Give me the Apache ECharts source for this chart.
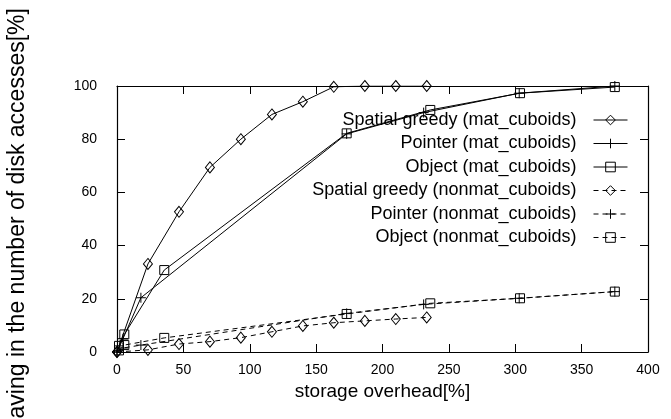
<!DOCTYPE html>
<html>
<head>
<meta charset="utf-8">
<script src="https://cdn.jsdelivr.net/npm/echarts@6/dist/echarts.min.js"></script>
<style>
    html,body{margin:0;padding:0;background:#fff;}
    #main{width:671px;height:419px;}
</style>
</head>
<body>
<div id="main"></div>
<script>
//x轴刻度
var xTicks=[0,50,100,150,200,250,300,350,400];
var yTicks=[0,20,40,60,80,100];

//Spatial greedy
var greedyX=[0,23.3,46.7,70,93.3,116.7,140,163.3,186.7,210,233.3];
var greedyMat=[0,33.1,52.7,69.4,80,89.3,94.1,99.7,100,100,100];
var greedyNonmat=[0,0.8,3,3.9,5.4,7.6,9.8,11,11.7,12.4,13];

//Pointer
var pointerX=[0,4.5,18,173,231,303,375];
var pointerMat=[0,5,20.4,82,90,97.3,100];
var pointerNonmat=[0,1.5,2.6,14.5,17.9,20.2,22.7];

//Object
var objectX=[1.5,5.5,35.6,173,236,303.6,375];
var objectMat=[2.3,6.6,30.8,82.2,91,97.3,99.6];
var objectNonmat=[0.6,2.6,5.3,14.3,18.3,20.2,22.7];

var legendNames=[
    'Spatial greedy (mat_cuboids)',
    'Pointer (mat_cuboids)',
    'Object (mat_cuboids)',
    'Spatial greedy (nonmat_cuboids)',
    'Pointer (nonmat_cuboids)',
    'Object (nonmat_cuboids)'
];

var DIAMOND='path://M5,0L10,6L5,12L0,6Z';
var SQUARE='path://M0,0L10,0L10,10L0,10Z';
var PLUS='path://M0,5L10,5M5,0L5,10';

var font='"Liberation Sans",Arial,sans-serif';

function pairs(xs,ys){
    var out=[];
    for(var i=0;i<xs.length;i++){
        out.push([xs[i],ys[i]]);
    }
    return out;
}

function makeLine(name,xs,ys,symbol,size,dashed){
    return {
        name:name,
        type:'line',
        xAxisIndex:0,
        yAxisIndex:0,
        data:pairs(xs,ys),
        symbol:symbol,
        symbolSize:size,
        showAllSymbol:true,
        lineStyle:{color:'#000',width:1,type:dashed?[5,4]:'solid'},
        itemStyle:{color:'rgba(0,0,0,0)',borderColor:'#000',borderWidth:1},
        emphasis:{disabled:true},
        z:3
    };
}

var series=[
    makeLine(legendNames[0],greedyX,greedyMat,DIAMOND,[9,11],false),
    makeLine(legendNames[1],pointerX,pointerMat,PLUS,[10,10],false),
    makeLine(legendNames[2],objectX,objectMat,SQUARE,[9,9],false),
    makeLine(legendNames[3],greedyX,greedyNonmat,DIAMOND,[9,11],true),
    makeLine(legendNames[4],pointerX,pointerNonmat,PLUS,[10,10],true),
    makeLine(legendNames[5],objectX,objectNonmat,SQUARE,[9,9],true)
];

var axisLineStyle={show:true,onZero:false,lineStyle:{color:'#000',width:1.2}};
var tickStyle={show:true,inside:true,length:8,lineStyle:{color:'#000',width:1}};

var option={
    animation:false,
    backgroundColor:'#fff',
    grid:{left:117,right:23,top:86,bottom:67,containLabel:false,outerBoundsMode:'none'},
    legend:{
        orient:'vertical',
        align:'right',
        right:43,
        top:110,
        padding:0,
        itemWidth:34,
        itemHeight:12,
        itemGap:3.5,
        data:legendNames,
        itemStyle:{color:'rgba(0,0,0,0)',borderColor:'#000',borderWidth:1},
        lineStyle:{color:'#000',width:1},
        textStyle:{
            color:'#000',
            fontFamily:font,
            fontSize:18,
            lineHeight:20,
            padding:[0,12,0,0]
        }
    },
    xAxis:[{
        type:'value',
        position:'bottom',
        min:0,max:400,interval:50,
        axisLine:axisLineStyle,
        axisTick:tickStyle,
        splitLine:{show:false},
        axisLabel:{color:'#000',fontFamily:font,fontSize:14,margin:11},
        name:'storage overhead[%]',
        nameLocation:'middle',
        nameGap:29,
        nameTextStyle:{color:'#000',fontFamily:font,fontSize:19}
    },{
        type:'value',
        position:'top',
        min:0,max:400,interval:50,
        axisLine:axisLineStyle,
        axisTick:tickStyle,
        splitLine:{show:false},
        axisLabel:{show:false}
    }],
    yAxis:[{
        type:'value',
        position:'left',
        min:0,max:100,interval:20,
        axisLine:axisLineStyle,
        axisTick:tickStyle,
        splitLine:{show:false},
        axisLabel:{color:'#000',fontFamily:font,fontSize:14,margin:20},
        name:'saving in the number of disk accesses[%]',
        nameLocation:'middle',
        nameRotate:90,
        nameGap:88,
        nameTextStyle:{color:'#000',fontFamily:font,fontSize:23}
    },{
        type:'value',
        position:'right',
        min:0,max:100,interval:20,
        axisLine:axisLineStyle,
        axisTick:tickStyle,
        splitLine:{show:false},
        axisLabel:{show:false}
    }],
    series:series
};

var myChart=echarts.init(document.getElementById('main'));
myChart.setOption(option);
</script>
</body>
</html>
